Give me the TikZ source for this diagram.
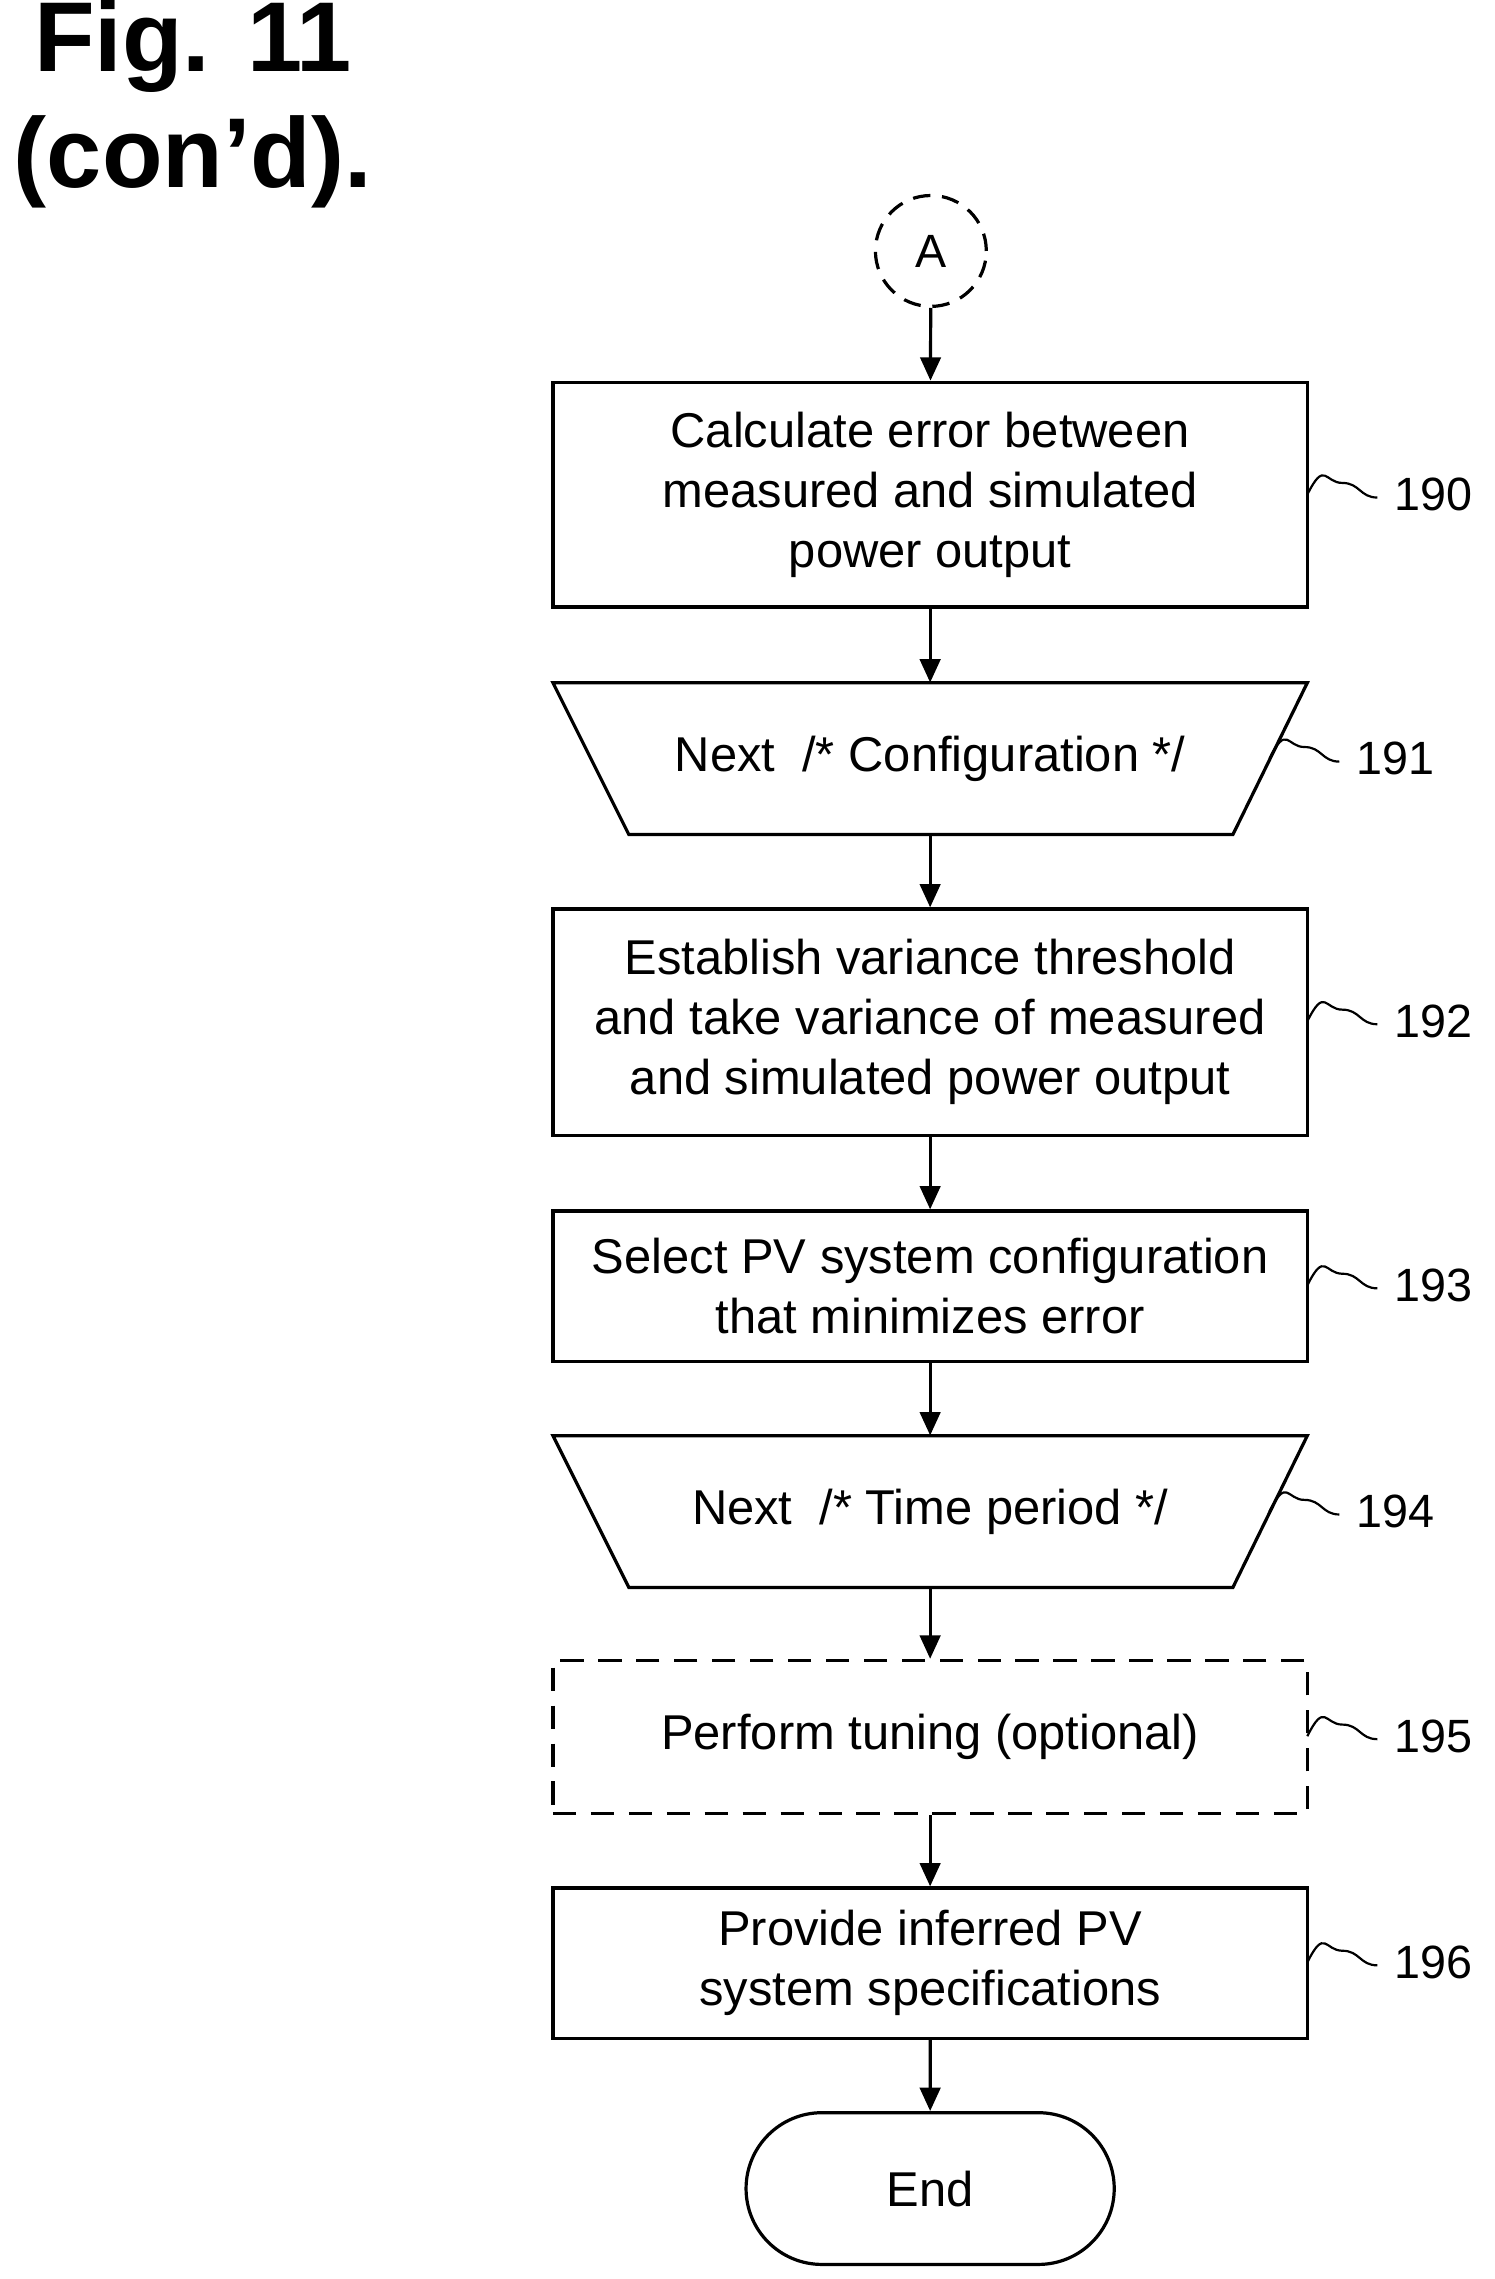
\documentclass[tikz,border=0pt]{standalone}
\usepackage{fontspec}
\setmainfont{Liberation Sans}
\usetikzlibrary{arrows.meta,shapes.geometric,shapes.misc}
\begin{document}
\begin{tikzpicture}[x=1pt,y=-1pt,
  box/.style={draw,line width=2.2pt,minimum width=517pt,align=center,font=\fontsize{33.5}{41}\selectfont},
  trap/.style={minimum width=517pt,minimum height=104pt,font=\fontsize{33.5}{41}\selectfont},
  arr/.style={line width=2.2pt,-{Triangle[length=16pt,width=14pt]}},
  lbl/.style={font=\fontsize{32}{36}\selectfont,anchor=west},
  sq/.style={line width=1.5pt}]
\useasboundingbox (0,0) rectangle (1024,1562);
\node[anchor=north west,font=\bfseries\fontsize{68}{80}\selectfont,align=center] (t) at (6,-4) {Fig. 11\\(con’d).};
\node[draw,circle,dashed,dash pattern=on 12pt off 8pt,line width=2.2pt,minimum size=76pt,font=\fontsize{32}{36}\selectfont] (a) at (638,172) {A};
\node[box,minimum height=154pt] (b190) at (637.5,339) {Calculate error between\\measured and simulated\\power output};
\node[trap] (b191) at (637.5,520) {Next\ \ /* Configuration */};
\draw[line width=2.2pt] (379,468) -- (896,468) -- (845,572) -- (431,572) -- cycle;
\node[box,minimum height=155pt] (b192) at (637.5,700.5) {Establish variance threshold\\and take variance of measured\\and simulated power output};
\node[box,minimum height=103pt] (b193) at (637.5,881.5) {Select PV system configuration\\that minimizes error};
\node[trap] (b194) at (637.5,1036) {Next\ \ /* Time period */};
\draw[line width=2.2pt] (379,984) -- (896,984) -- (845,1088) -- (431,1088) -- cycle;
\node[box,minimum height=105pt,dashed,dash pattern=on 16pt off 10pt] (b195) at (637.5,1190.5) {Perform tuning (optional)};
\node[box,minimum height=103pt] (b196) at (637.5,1345.5) {Provide inferred PV\\system specifications};
\node[draw,line width=2.2pt,rounded rectangle,minimum width=259pt,minimum height=104pt,font=\fontsize{33.5}{36}\selectfont] (end) at (637.5,1500) {End};
\draw[arr] (a) -- (b190);
\draw[arr] (b190) -- (b191);
\draw[arr] (b191) -- (b192);
\draw[arr] (b192) -- (b193);
\draw[arr] (b193) -- (b194);
\draw[arr] (b194) -- (b195);
\draw[arr] (b195) -- (b196);
\draw[arr] (b196) -- (end);
\foreach \y/\x/\t in {339/896/190,700/896/192,881/896/193,1190/896/195,1345/896/196,520/870/191,1036/870/194}{
  \coordinate (s\t) at (\x,\y);
  \draw[sq] (s\t) .. controls +(12,-24) and +(-12,0) .. ++(24,-8) .. controls +(12,0) and +(-12,0) .. ++(24,10);
  \node[lbl] (l\t) at (\x+56,\y) {\t};
}
\end{tikzpicture}
\end{document}
